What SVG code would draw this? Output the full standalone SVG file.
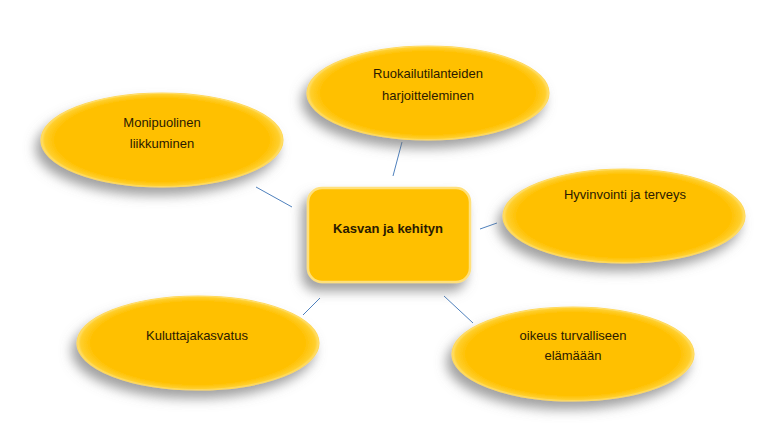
<svg xmlns="http://www.w3.org/2000/svg" width="759" height="434" viewBox="0 0 759 434">
<defs>
<filter id="sh" x="-30%" y="-40%" width="160%" height="190%">
<feDropShadow dx="-5" dy="8" stdDeviation="6" flood-color="#6e6e6e" flood-opacity="0.65"/>
</filter>
<radialGradient id="g" cx="50%" cy="50%" r="50%">
<stop offset="0%" stop-color="#FFC000"/>
<stop offset="88%" stop-color="#FFC000"/>
<stop offset="97%" stop-color="#FFCF2E"/>
<stop offset="100%" stop-color="#FFE27A"/>
</radialGradient>
<linearGradient id="gr" x1="0" y1="0" x2="0" y2="1">
<stop offset="0%" stop-color="#FFC000"/>
<stop offset="100%" stop-color="#FFC000"/>
</linearGradient>
</defs>
<style>
.n{fill:url(#g);stroke:#FFD95A;stroke-width:1.2;filter:url(#sh)}
.b{fill:#FFC000;stroke:#FFE07A;stroke-width:2.5;filter:url(#sh)}
.t{font-family:"Liberation Sans",Arial,sans-serif;font-size:13px;fill:#2b1a00;text-anchor:middle}
.tb{font-weight:bold}
.c{stroke:#4F81BD;stroke-width:1;fill:none}
</style>
<rect width="759" height="434" fill="#ffffff"/>
<g id="connectors">
<line class="c" x1="256" y1="187" x2="292" y2="207"/>
<line class="c" x1="402" y1="142" x2="393" y2="176"/>
<line class="c" x1="480" y1="229" x2="497" y2="223"/>
<line class="c" x1="303" y1="315" x2="320" y2="298"/>
<line class="c" x1="444" y1="296" x2="473" y2="323"/>
</g>
<g id="node-monipuolinen">
<ellipse class="n" cx="162" cy="140" rx="121" ry="47"/>
<text class="t" x="162" y="127">Monipuolinen</text>
<text class="t" x="162" y="148">liikkuminen</text>
</g>
<g id="node-ruokailu">
<ellipse class="n" cx="428" cy="93" rx="121" ry="47"/>
<text class="t" x="428" y="78">Ruokailutilanteiden</text>
<text class="t" x="428" y="100">harjoitteleminen</text>
</g>
<g id="node-hyvinvointi">
<ellipse class="n" cx="624" cy="216" rx="121" ry="47"/>
<text class="t" x="625" y="199">Hyvinvointi ja terveys</text>
</g>
<g id="node-kuluttaja">
<ellipse class="n" cx="198" cy="343" rx="121" ry="47"/>
<text class="t" x="197" y="340">Kuluttajakasvatus</text>
</g>
<g id="node-oikeus">
<ellipse class="n" cx="573" cy="354" rx="121" ry="47"/>
<text class="t" x="573" y="340">oikeus turvalliseen</text>
<text class="t" x="573" y="360">elämäään</text>
</g>
<g id="node-center">
<rect class="b" x="308" y="188" width="162" height="94" rx="14"/>
<text class="t tb" x="388" y="233">Kasvan ja kehityn</text>
</g>
</svg>
